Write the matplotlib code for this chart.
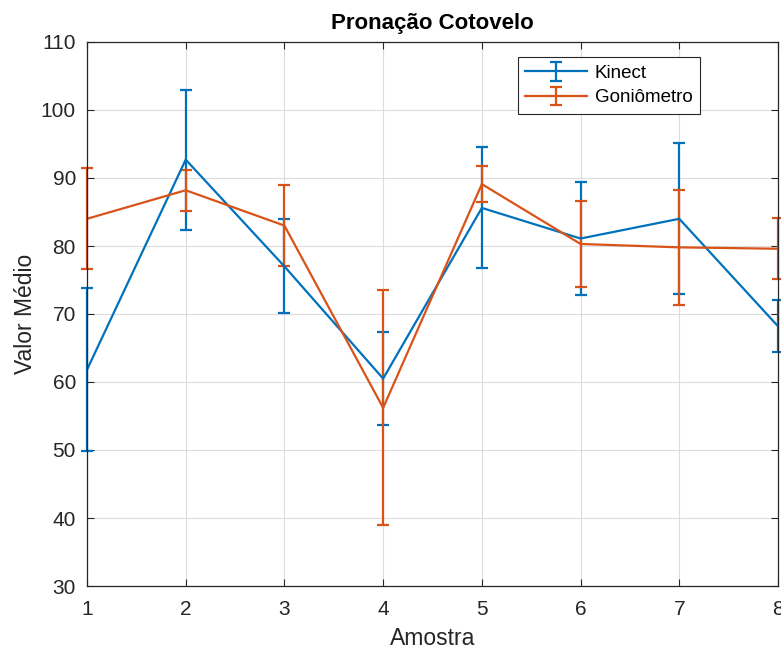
import matplotlib
matplotlib.use("Agg")
import matplotlib.pyplot as plt

plt.rcParams['font.family'] = ['Liberation Sans', 'DejaVu Sans']

amostra = [1, 2, 3, 4, 5, 6, 7, 8]
kinect_media = [61.8, 92.7, 77.0, 60.5, 85.6, 81.1, 84.0, 68.2]
kinect_erro = [12.0, 10.3, 6.9, 6.8, 8.9, 8.3, 11.1, 3.8]
gonio_media = [84.0, 88.2, 83.0, 56.2, 89.1, 80.3, 79.8, 79.6]
gonio_erro = [7.4, 3.0, 6.0, 17.3, 2.7, 6.3, 8.5, 4.5]

azul = '#0072BD'
laranja = '#D95319'
cinza = '#262626'

fig = plt.figure(figsize=(7.81, 6.5), dpi=100)
ax = fig.add_axes([87/781, (650-586)/650, (778-87)/781, (586-42)/650])

for y, e, c, nome in [(kinect_media, kinect_erro, azul, 'Kinect'),
                      (gonio_media, gonio_erro, laranja, 'Goniômetro')]:
    cont = ax.errorbar(amostra, y, yerr=e, color=c, lw=1.6, elinewidth=1.6,
                       capsize=4.5, capthick=1.6, label=nome)
    for art in cont.lines[1] + cont.lines[2]:
        art.set_clip_on(False)

ax.set_xlim(1, 8)
ax.set_ylim(30, 110)
ax.set_xticks(amostra)
ax.set_yticks(range(30, 111, 10))
ax.grid(True, color='#dcdcdc', lw=0.8)
ax.set_axisbelow(True)
ax.tick_params(direction='in', top=True, right=True, length=5, width=0.8,
               colors=cinza, labelsize=15)
ax.tick_params(axis='x', pad=10)
ax.tick_params(axis='y', pad=8)
for s in ax.spines.values():
    s.set_color(cinza)
    s.set_linewidth(0.9)

ax.set_xlabel('Amostra', fontsize=16.5, color=cinza, labelpad=6)
ax.set_ylabel('Valor Médio', fontsize=16.5, color=cinza, labelpad=3)
ax.set_title('Pronação Cotovelo', fontsize=16, fontweight='bold', color='black', pad=9)

leg = ax.legend(loc='upper right', bbox_to_anchor=(0.887, 0.972), fontsize=13.5,
                frameon=True, fancybox=False, edgecolor=cinza, framealpha=1,
                borderpad=0.4, labelspacing=0.4, handlelength=3.3, handletextpad=0.4,
                borderaxespad=0)
leg.get_frame().set_linewidth(0.8)

fig.savefig('out.png', dpi=100)
